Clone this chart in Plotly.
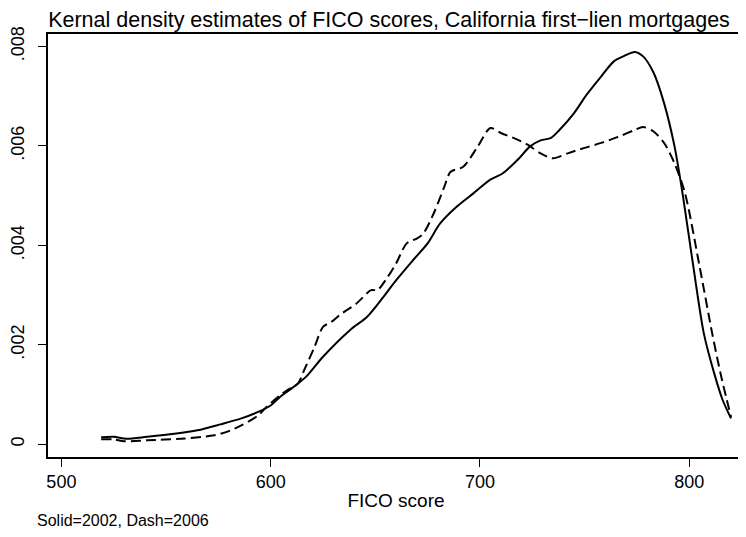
import plotly.graph_objects as go

# FICO score grid and density estimates
fico_2002 = [519, 525, 531, 541, 554, 565, 576, 586, 594, 600, 605, 609, 617, 625, 638, 646, 654, 660,
             668, 675, 681, 689, 697, 705, 711, 718, 724, 729, 734, 738, 745, 751, 758, 764, 769, 774,
             778, 783, 788, 793, 797, 802, 807, 812, 816, 820]
dens_2002 = [.00014, .00015, .00011, .00015, .00021, .00028, .00040, .00052, .00065, .00078, .00097,
             .00109, .00136, .00176, .0023, .00256, .00297, .0033, .0037, .00404, .00444, .00478,
             .00505, .00532, .00545, .00572, .00599, .00611, .00616, .00632, .00666, .00703, .0074,
             .0077, .00781, .00789, .0078, .00747, .00686, .00599, .00500, .00357, .00223, .00142,
             .00089, .00052]

fico_2006 = [519, 525, 530, 541, 557, 573, 579, 586, 594, 598, 605, 608, 613, 616, 621, 625, 629, 633,
             641, 648, 651, 656, 660, 665, 670, 673, 678, 683, 686, 692, 699, 705, 710, 716, 723, 729,
             735, 742, 750, 758, 766, 774, 778, 783, 788, 793, 798, 805, 811, 815, 818, 820]
dens_2006 = [.0001, .0001, .00006, .00008, .00011, .00018, .00025, .00038, .00058, .00075, .00100,
             .00109, .00122, .00149, .00196, .00236, .00246, .0026, .00283, .0031, .0031, .00337,
             .00364, .00404, .00414, .00424, .00465, .00518, .00548, .00558, .00599, .00636, .00626,
             .00616, .00602, .00585, .00575, .00585, .00596, .00606, .00618, .00632, .00638, .00629,
             .00606, .00565, .00505, .00357, .00223, .00142, .00089, .00055]

x_ticks = [500, 600, 700, 800]
y_ticks = [0, 0.002, 0.004, 0.006, 0.008]
y_tick_labels = ["0", ".002", ".004", ".006", ".008"]

FONT = "Liberation Sans, Arial, sans-serif"

fig = go.Figure()
fig.add_trace(go.Scatter(x=fico_2002, y=dens_2002, mode="lines",
                         line=dict(color="black", width=2, shape="spline", smoothing=0.8),
                         showlegend=False))
fig.add_trace(go.Scatter(x=fico_2006, y=dens_2006, mode="lines",
                         line=dict(color="black", width=2, dash="10px,5px", shape="spline", smoothing=0.8),
                         showlegend=False))

# page has an 8px body margin, so the figure is 8px smaller than the window
fig.update_layout(
    width=738, height=529,
    margin=dict(l=40, r=2, t=26, b=80, autoexpand=False),
    paper_bgcolor="white", plot_bgcolor="white",
    font=dict(family=FONT, color="black", size=18),
    title=dict(text="Kernal density estimates of FICO scores, California first\u2212lien mortgages",
               x=381 / 738, xref="container", xanchor="center", y=1 - 11 / 529, yref="container",
               yanchor="middle",
               font=dict(size=21.5, family=FONT, color="black"), automargin=False),
    xaxis=dict(range=[493.6, 826.2], tickvals=x_ticks, ticks="outside", ticklen=8, tickwidth=1,
               tickcolor="black", showline=True, linecolor="black", linewidth=1.5, mirror=True,
               showgrid=False, zeroline=False, automargin=False,
               title=dict(text="FICO score", font=dict(size=19), standoff=2),
               tickfont=dict(size=18)),
    yaxis=dict(range=[-0.000256, 0.00825], tickvals=y_ticks, ticktext=y_tick_labels,
               ticks="outside", ticklen=8, tickwidth=1, tickcolor="black", tickangle=-90,
               showline=True, linecolor="black", linewidth=1.5, mirror=True, automargin=False,
               ticklabelstandoff=7,
               showgrid=False, zeroline=False, tickfont=dict(size=18)),
    annotations=[dict(text="Solid=2002, Dash=2006", xref="paper", yref="paper",
                      x=-0.019, y=-0.149, xanchor="left", yanchor="middle", showarrow=False,
                      font=dict(size=16, family=FONT, color="black"))],
)

fig.write_html("out.html")
